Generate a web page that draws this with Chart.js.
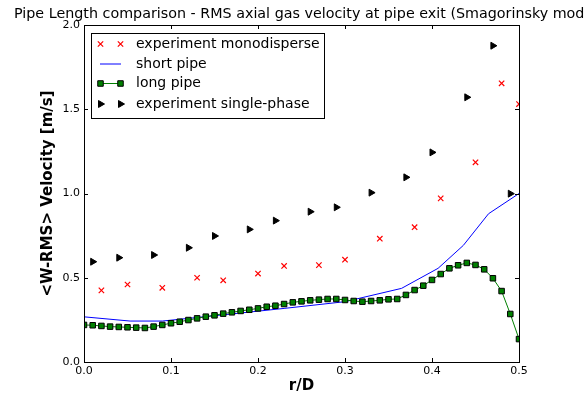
<!DOCTYPE html>
<html>
<head>
<meta charset="utf-8">
<script src="https://cdn.jsdelivr.net/npm/chart.js@4.4.0/dist/chart.umd.min.js"></script>
<style>
  html, body { margin: 0; padding: 0; background: #fff; }
  #wrap { width: 585px; height: 396px; }
</style>
</head>
<body>
<div id="wrap"><canvas id="pipeChart" width="585" height="396"></canvas></div>
<script>
// Data
const monoR = [0.02, 0.05, 0.09, 0.13, 0.16, 0.20, 0.23, 0.27, 0.30, 0.34, 0.38, 0.41, 0.45, 0.48, 0.50];
const monoW = [0.425, 0.46, 0.44, 0.50, 0.485, 0.525, 0.57, 0.575, 0.607, 0.732, 0.80, 0.971, 1.185, 1.654, 1.531];

const shortR = [0.0, 0.053, 0.09, 0.16, 0.23, 0.30, 0.365, 0.407, 0.436, 0.465, 0.50];
const shortW = [0.268, 0.243, 0.243, 0.28, 0.318, 0.358, 0.437, 0.556, 0.692, 0.88, 1.0];

const longR = [0.00, 0.01, 0.02, 0.03, 0.04, 0.05, 0.06, 0.07, 0.08, 0.09,
               0.10, 0.11, 0.12, 0.13, 0.14, 0.15, 0.16, 0.17, 0.18, 0.19,
               0.20, 0.21, 0.22, 0.23, 0.24, 0.25, 0.26, 0.27, 0.28, 0.29,
               0.30, 0.31, 0.32, 0.33, 0.34, 0.35, 0.36, 0.37, 0.38, 0.39,
               0.40, 0.41, 0.42, 0.43, 0.44, 0.45, 0.46, 0.47, 0.48, 0.49, 0.50];
const longW = [0.220, 0.218, 0.214, 0.210, 0.208, 0.206, 0.204, 0.202, 0.210, 0.220,
               0.230, 0.239, 0.249, 0.259, 0.269, 0.277, 0.287, 0.295, 0.303, 0.310,
               0.318, 0.328, 0.334, 0.344, 0.354, 0.360, 0.366, 0.370, 0.374, 0.374,
               0.368, 0.362, 0.358, 0.362, 0.366, 0.372, 0.374, 0.398, 0.427, 0.453,
               0.487, 0.522, 0.556, 0.574, 0.588, 0.576, 0.550, 0.497, 0.421, 0.285, 0.136];

const singleR = [0.01, 0.04, 0.08, 0.12, 0.15, 0.19, 0.22, 0.26, 0.29, 0.33, 0.37, 0.40, 0.44, 0.47, 0.49];
const singleW = [0.595, 0.619, 0.635, 0.678, 0.748, 0.787, 0.839, 0.892, 0.918, 1.005, 1.096, 1.244, 1.571, 1.877, 0.999];

const xTicks = [0.0, 0.1, 0.2, 0.3, 0.4, 0.5];
const yTicks = [0.0, 0.5, 1.0, 1.5, 2.0];

const toPoints = (xs, ys) => xs.map((x, i) => ({ x: x, y: ys[i] }));

// draws one legend marker by hand
function legendMarker(ctx, ds, x, y) {
    const r = ds.pointRadius;
    ctx.save();
    ctx.lineWidth = ds.pointBorderWidth;
    ctx.strokeStyle = ds.pointBorderColor;
    ctx.fillStyle = ds.pointBackgroundColor;
    if (ds.pointStyle === 'crossRot') {
        const d = r * Math.SQRT1_2;
        ctx.beginPath();
        ctx.moveTo(x - d, y - d); ctx.lineTo(x + d, y + d);
        ctx.moveTo(x - d, y + d); ctx.lineTo(x + d, y - d);
        ctx.stroke();
    } else if (ds.pointStyle === 'rect') {
        const s = r * Math.SQRT1_2;
        ctx.beginPath();
        ctx.rect(x - s, y - s, 2 * s, 2 * s);
        ctx.fill(); ctx.stroke();
    } else if (ds.pointStyle === 'triangle') {
        ctx.beginPath();
        ctx.moveTo(x + r, y);
        ctx.lineTo(x - r / 2, y - r * Math.sqrt(3) / 2);
        ctx.lineTo(x - r / 2, y + r * Math.sqrt(3) / 2);
        ctx.closePath();
        ctx.fill(); ctx.stroke();
    }
    ctx.restore();
}

const framePlugin = {
    id: 'frame',
    afterDraw(chart) {
        const ctx = chart.ctx;
        const a = chart.chartArea;
        const sx = chart.scales.x, sy = chart.scales.y;
        ctx.save();
        // axes box
        ctx.strokeStyle = '#000';
        ctx.lineWidth = 1;
        ctx.strokeRect(a.left + 0.5, a.top + 0.5, a.right - a.left, a.bottom - a.top);
        // inward ticks on all four sides
        ctx.beginPath();
        xTicks.forEach(v => {
            const px = Math.round(sx.getPixelForValue(v)) + 0.5;
            ctx.moveTo(px, a.bottom); ctx.lineTo(px, a.bottom - 4);
            ctx.moveTo(px, a.top); ctx.lineTo(px, a.top + 4);
        });
        yTicks.forEach(v => {
            const py = Math.round(sy.getPixelForValue(v)) + 0.5;
            ctx.moveTo(a.left, py); ctx.lineTo(a.left + 4, py);
            ctx.moveTo(a.right, py); ctx.lineTo(a.right - 4, py);
        });
        ctx.stroke();

        // title (runs off the right edge, as in the original)
        ctx.fillStyle = '#000';
        ctx.font = '14.3px "DejaVu Sans"';
        ctx.textAlign = 'left';
        ctx.textBaseline = 'alphabetic';
        ctx.fillText('Pipe Length comparison - RMS axial gas velocity at pipe exit (Smagorinsky model)', 14, 18);

        // axis labels
        ctx.textAlign = 'center';
        ctx.font = 'bold 15px "DejaVu Sans"';
        ctx.textBaseline = 'middle';
        ctx.fillText('r/D', (a.left + a.right) / 2, 386);
        ctx.save();
        ctx.translate(48, (a.top + a.bottom) / 2);
        ctx.rotate(-Math.PI / 2);
        ctx.fillText('<W-RMS> Velocity [m/s]', 0, 0);
        ctx.restore();

        // legend
        const lx = 91, ly = 33, lw = 233, lh = 85;
        ctx.fillStyle = '#fff';
        ctx.fillRect(lx, ly, lw, lh);
        ctx.strokeRect(lx + 0.5, ly + 0.5, lw, lh);
        ctx.font = '14px "DejaVu Sans"';
        ctx.textAlign = 'left';
        const rows = [44, 64, 83.5, 104];
        chart.data.datasets.forEach((ds, i) => {
            const y = rows[i];
            if (ds.showLine) {
                ctx.strokeStyle = ds.borderColor;
                ctx.lineWidth = ds.borderWidth;
                ctx.beginPath();
                ctx.moveTo(100, y); ctx.lineTo(121, y);
                ctx.stroke();
            }
            if (ds.pointRadius > 0) {
                legendMarker(ctx, ds, 100.5, y);
                legendMarker(ctx, ds, 120.5, y);
            }
            ctx.fillStyle = '#000';
            ctx.fillText(ds.label, 136, y);
        });
        ctx.restore();
    }
};

new Chart(document.getElementById('pipeChart'), {
    type: 'scatter',
    data: {
        datasets: [
            {
                label: 'experiment monodisperse',
                data: toPoints(monoR, monoW),
                showLine: false,
                pointStyle: 'crossRot',
                pointRadius: 3.8,
                pointBorderWidth: 1.2,
                pointBorderColor: '#ff0000',
                pointBackgroundColor: '#ff0000',
                clip: 0,
                order: 1
            },
            {
                label: 'short pipe',
                data: toPoints(shortR, shortW),
                showLine: true,
                borderColor: '#0000ff',
                borderWidth: 1,
                pointRadius: 0,
                clip: 0,
                order: 4
            },
            {
                label: 'long pipe',
                data: toPoints(longR, longW),
                showLine: true,
                borderColor: '#008000',
                borderWidth: 1,
                pointStyle: 'rect',
                pointRadius: 3.9,
                pointBorderWidth: 1,
                pointBorderColor: '#000000',
                pointBackgroundColor: '#008000',
                clip: 0,
                order: 3
            },
            {
                label: 'experiment single-phase',
                data: toPoints(singleR, singleW),
                showLine: false,
                pointStyle: 'triangle',
                pointRotation: 90,
                pointRadius: 4,
                pointBorderWidth: 1,
                pointBorderColor: '#000000',
                pointBackgroundColor: '#000000',
                clip: 0,
                order: 2
            }
        ]
    },
    options: {
        responsive: false,
        animation: false,
        events: [],
        layout: { padding: { top: 25, right: 66, left: 0, bottom: 0 } },
        plugins: {
            legend: { display: false },
            title: { display: false },
            tooltip: { enabled: false }
        },
        scales: {
            x: {
                type: 'linear',
                min: 0, max: 0.5,
                afterBuildTicks: s => { s.ticks = xTicks.map(v => ({ value: v })); },
                afterFit: s => { s.height = 34; },
                grid: { display: false, drawTicks: false },
                border: { display: false },
                ticks: {
                    padding: 3,
                    color: '#000',
                    font: { family: 'DejaVu Sans', size: 11 },
                    maxRotation: 0,
                    callback: v => v.toFixed(1)
                }
            },
            y: {
                type: 'linear',
                min: 0, max: 2,
                afterBuildTicks: s => { s.ticks = yTicks.map(v => ({ value: v })); },
                afterFit: s => { s.width = 84; },
                grid: { display: false, drawTicks: false },
                border: { display: false },
                ticks: {
                    padding: 4,
                    color: '#000',
                    font: { family: 'DejaVu Sans', size: 11 },
                    callback: v => v.toFixed(1)
                }
            }
        }
    },
    plugins: [framePlugin]
});
</script>
</body>
</html>
